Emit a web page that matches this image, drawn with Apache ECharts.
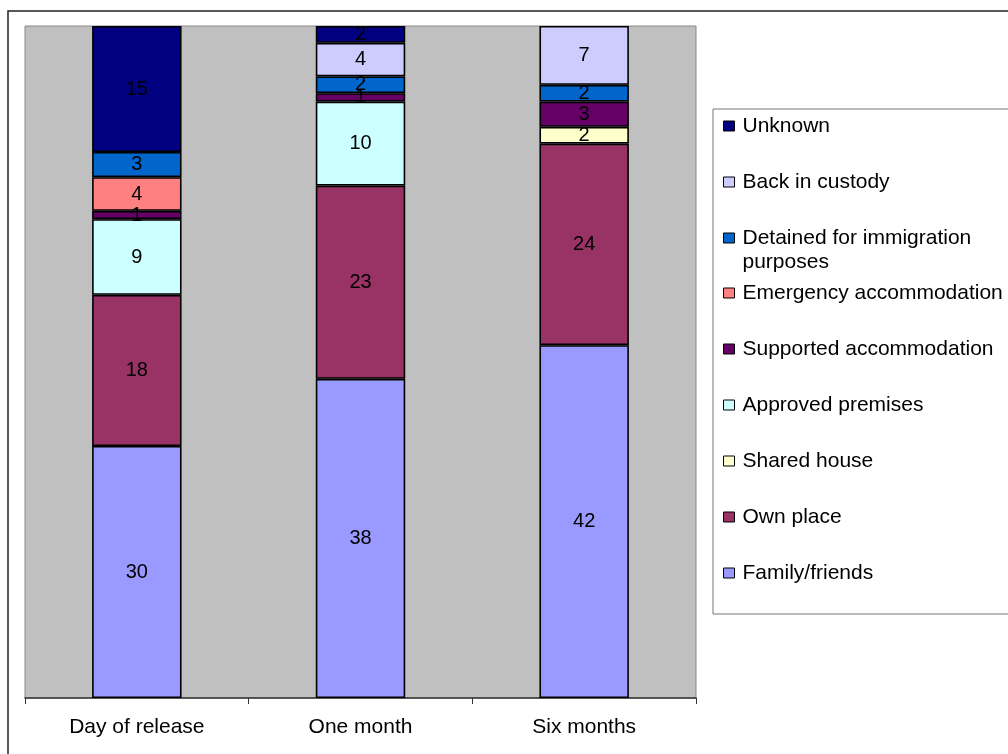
<!DOCTYPE html>
<html>
<head>
<meta charset="utf-8">
<script src="https://cdn.jsdelivr.net/npm/echarts@6/dist/echarts.min.js"></script>
<style>
html,body{margin:0;padding:0;background:#fff;}
#chart{width:1008px;height:754px;}
</style>
</head>
<body>
<div id="chart"></div>
<script>
// Data (stack order bottom to top)
const categories = ['Day of release', 'One month', 'Six months'];
const familyFriends = [30, 38, 42];
const ownPlace = [18, 23, 24];
const sharedHouse = [null, null, 2];
const approvedPremises = [9, 10, null];
const supportedAccommodation = [1, 1, 3];
const emergencyAccommodation = [4, null, null];
const detainedImmigration = [3, 2, 2];
const backInCustody = [null, 4, 7];
const unknown = [15, 2, null];

const seriesNames = ['Family/friends', 'Own place', 'Shared house', 'Approved premises',
  'Supported accommodation', 'Emergency accommodation', 'Detained for immigration purposes',
  'Back in custody', 'Unknown'];
const seriesData = [familyFriends, ownPlace, sharedHouse, approvedPremises,
  supportedAccommodation, emergencyAccommodation, detainedImmigration, backInCustody, unknown];
const seriesColors = ['#9999FF', '#993366', '#FFFFCC', '#CCFFFF', '#660066',
  '#FF8080', '#0066CC', '#CCCCFF', '#000080'];

const FONT = 'Liberation Sans, Arial, sans-serif';

const series = seriesNames.map((name, i) => ({
  name: name,
  type: 'bar',
  stack: 'total',
  barWidth: '40%',
  data: seriesData[i],
  itemStyle: { color: seriesColors[i], borderColor: '#000', borderWidth: 1.6 },
  label: { show: true, position: 'inside', color: '#000', fontSize: 20, fontFamily: FONT },
  emphasis: { disabled: true }
}));

const legendText = { color: '#000', fontSize: 21, fontFamily: FONT, lineHeight: 24, padding: [0, 0, 0, 3] };
const legendCommon = {
  orient: 'vertical',
  left: 713,
  icon: 'rect',
  itemWidth: 11,
  itemHeight: 10,
  itemGap: 32,
  selectedMode: false,
  itemStyle: { borderColor: '#000', borderWidth: 1 },
  textStyle: legendText
};

const option = {
  animation: false,
  backgroundColor: '#fff',
  graphic: [{
    type: 'rect',
    shape: { x: 8, y: 11, width: 1100, height: 800 },
    style: { fill: 'none', stroke: '#222', lineWidth: 1.5 },
    silent: true,
    z: -10
  }],
  grid: {
    left: 25, top: 26, right: 312, bottom: 56,
    show: true, backgroundColor: '#C0C0C0', borderColor: '#888', borderWidth: 1
  },
  legend: [
    Object.assign({}, legendCommon, {
      top: 109,
      padding: [172, 30, 29, 10],
      borderColor: '#777',
      borderWidth: 1,
      data: ['Emergency accommodation', 'Supported accommodation', 'Approved premises',
        'Shared house', 'Own place', 'Family/friends'],
      z: 3
    }),
    Object.assign({}, legendCommon, {
      top: 114,
      padding: [0, 0, 0, 10],
      data: ['Unknown', 'Back in custody'],
      z: 4
    }),
    Object.assign({}, legendCommon, {
      top: 202,
      padding: [0, 0, 0, 10],
      data: ['Detained for immigration purposes'],
      formatter: function () {
        return '\u00a0\nDetained for immigration\npurposes';
      },
      z: 4
    })
  ],
  xAxis: {
    type: 'category',
    data: categories,
    axisLine: { show: true, lineStyle: { color: '#333', width: 1.5 } },
    axisTick: { show: true, length: 6, lineStyle: { color: '#333' } },
    axisLabel: { color: '#000', fontSize: 21, fontFamily: FONT, margin: 19 },
    splitLine: { show: false }
  },
  yAxis: {
    type: 'value',
    min: 0, max: 80, interval: 10,
    show: false,
    splitLine: { show: false }
  },
  series: series
};

const chart = echarts.init(document.getElementById('chart'), null, { renderer: 'canvas' });
chart.setOption(option);
</script>
</body>
</html>
